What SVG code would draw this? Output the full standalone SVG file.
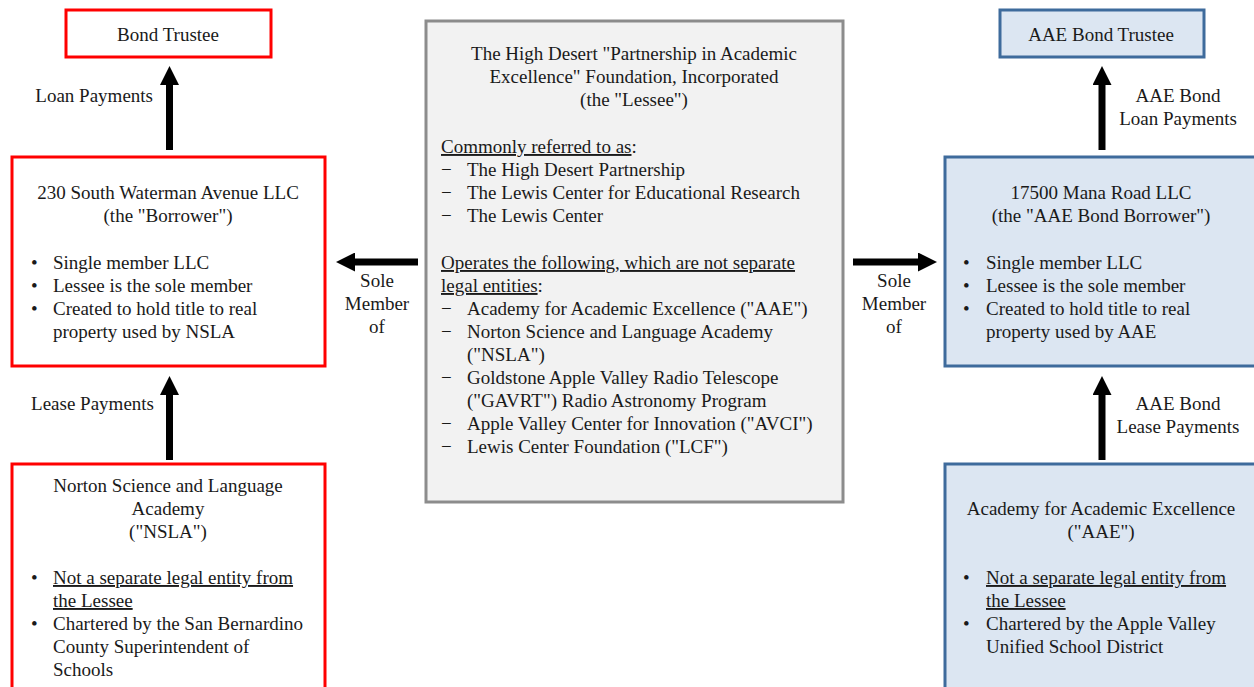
<svg xmlns="http://www.w3.org/2000/svg" width="1254" height="687" viewBox="0 0 1254 687">
<style>
text{font-family:"Liberation Serif","Times New Roman",serif;font-size:19px;fill:#1a1a1a}
.c{text-anchor:middle}
.u{text-decoration:underline}
.red{fill:#ffffff;stroke:#ff0000;stroke-width:3}
.blue{fill:#dce6f2;stroke:#3e6b9c;stroke-width:3}
.gray{fill:#f2f2f2;stroke:#8c8c8c;stroke-width:3}
.arr{stroke:#000;stroke-width:7;fill:none;marker-end:url(#head)}
</style>
<defs>
<marker id="head" markerUnits="userSpaceOnUse" viewBox="0 0 19 19" refX="0" refY="9.5" markerWidth="19" markerHeight="19" orient="auto">
<path d="M0,0 L19,9.5 L0,19 z" fill="#000"/>
</marker>
</defs>
<rect width="1254" height="687" fill="#fff"/>

<g id="bond-trustee">
<rect class="red" x="66" y="10" width="205" height="47"/>
<text class="c" x="168" y="41">Bond Trustee</text>
</g>

<g id="borrower">
<rect class="red" x="12" y="157" width="313" height="209"/>
<text class="c" x="168" y="199">230 South Waterman Avenue LLC</text>
<text class="c" x="168" y="222">(the "Borrower")</text>
<text x="31" y="269">•</text><text x="53" y="269">Single member LLC</text>
<text x="31" y="292">•</text><text x="53" y="292">Lessee is the sole member</text>
<text x="31" y="315">•</text><text x="53" y="315">Created to hold title to real</text>
<text x="53" y="338">property used by NSLA</text>
</g>

<g id="nsla">
<rect class="red" x="12" y="464" width="313" height="240"/>
<text class="c" x="168" y="492">Norton Science and Language</text>
<text class="c" x="168" y="515">Academy</text>
<text class="c" x="168" y="538">("NSLA")</text>
<text x="31" y="584">•</text><text x="53" y="584" class="u">Not a separate legal entity from</text>
<text x="53" y="607" class="u">the Lessee</text>
<text x="31" y="630">•</text><text x="53" y="630">Chartered by the San Bernardino</text>
<text x="53" y="653">County Superintendent of</text>
<text x="53" y="676">Schools</text>
</g>

<g id="lessee">
<rect class="gray" x="426" y="21" width="417" height="481"/>
<text class="c" x="634" y="60">The High Desert "Partnership in Academic</text>
<text class="c" x="634" y="83">Excellence" Foundation, Incorporated</text>
<text class="c" x="634" y="106">(the "Lessee")</text>
<text x="441" y="153"><tspan class="u">Commonly referred to as</tspan>:</text>
<text x="441" y="176">−</text><text x="467" y="176">The High Desert Partnership</text>
<text x="441" y="199">−</text><text x="467" y="199">The Lewis Center for Educational Research</text>
<text x="441" y="222">−</text><text x="467" y="222">The Lewis Center</text>
<text x="441" y="269" class="u">Operates the following, which are not separate</text>
<text x="441" y="292"><tspan class="u">legal entities</tspan>:</text>
<text x="441" y="315">−</text><text x="467" y="315">Academy for Academic Excellence ("AAE")</text>
<text x="441" y="338">−</text><text x="467" y="338">Norton Science and Language Academy</text>
<text x="467" y="361">("NSLA")</text>
<text x="441" y="384">−</text><text x="467" y="384">Goldstone Apple Valley Radio Telescope</text>
<text x="467" y="407">("GAVRT") Radio Astronomy Program</text>
<text x="441" y="430">−</text><text x="467" y="430">Apple Valley Center for Innovation ("AVCI")</text>
<text x="441" y="453">−</text><text x="467" y="453">Lewis Center Foundation ("LCF")</text>
</g>

<g id="aae-bond-trustee">
<rect class="blue" x="1000" y="10" width="204" height="47"/>
<text class="c" x="1101" y="41">AAE Bond Trustee</text>
</g>

<g id="aae-borrower">
<rect class="blue" x="945" y="157" width="313" height="209"/>
<text class="c" x="1101" y="199">17500 Mana Road LLC</text>
<text class="c" x="1101" y="222">(the "AAE Bond Borrower")</text>
<text x="963" y="269">•</text><text x="986" y="269">Single member LLC</text>
<text x="963" y="292">•</text><text x="986" y="292">Lessee is the sole member</text>
<text x="963" y="315">•</text><text x="986" y="315">Created to hold title to real</text>
<text x="986" y="338">property used by AAE</text>
</g>

<g id="aae">
<rect class="blue" x="945" y="464" width="313" height="240"/>
<text class="c" x="1101" y="515">Academy for Academic Excellence</text>
<text class="c" x="1101" y="538">("AAE")</text>
<text x="963" y="584">•</text><text x="986" y="584" class="u">Not a separate legal entity from</text>
<text x="986" y="607" class="u">the Lessee</text>
<text x="963" y="630">•</text><text x="986" y="630">Chartered by the Apple Valley</text>
<text x="986" y="653">Unified School District</text>
</g>

<g id="connectors">
<line class="arr" x1="169.5" y1="150" x2="169.5" y2="85"/>
<line class="arr" x1="169.5" y1="460" x2="169.5" y2="395"/>
<line class="arr" x1="418" y1="262" x2="355" y2="262"/>
<line class="arr" x1="853" y1="262" x2="918" y2="262"/>
<line class="arr" x1="1102" y1="150" x2="1102" y2="85"/>
<line class="arr" x1="1102" y1="460" x2="1102" y2="395"/>
<text x="153" y="102" text-anchor="end">Loan Payments</text>
<text x="154" y="410" text-anchor="end">Lease Payments</text>
<text class="c" x="377" y="287">Sole</text>
<text class="c" x="377" y="310">Member</text>
<text class="c" x="377" y="333">of</text>
<text class="c" x="894" y="287">Sole</text>
<text class="c" x="894" y="310">Member</text>
<text class="c" x="894" y="333">of</text>
<text class="c" x="1178" y="102">AAE Bond</text>
<text class="c" x="1178" y="125">Loan Payments</text>
<text class="c" x="1178" y="410">AAE Bond</text>
<text class="c" x="1178" y="433">Lease Payments</text>
</g>
</svg>
